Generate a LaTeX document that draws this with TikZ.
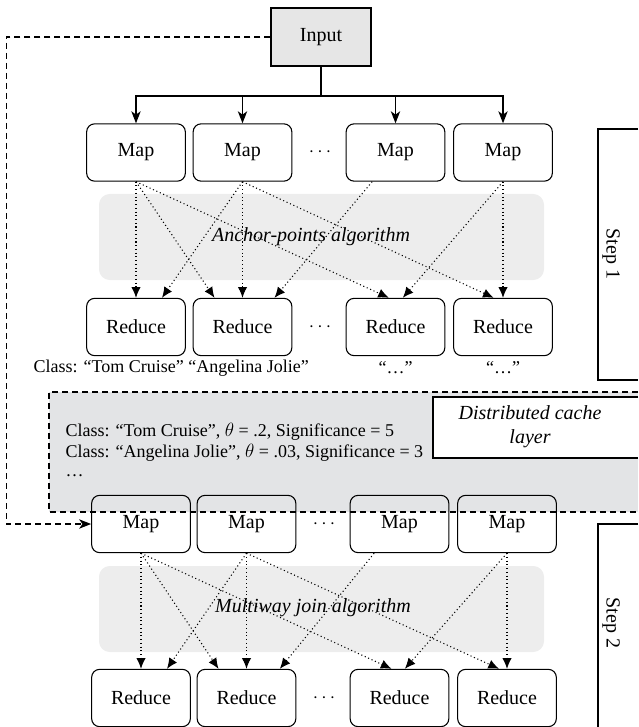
\documentclass[tikz,border=0pt]{standalone}
\usepackage{fontspec}
\setmainfont{Liberation Serif}
\usetikzlibrary{arrows.meta}

\definecolor{bandgray}{RGB}{237,237,237}
\definecolor{cachegray}{RGB}{227,228,230}
\definecolor{inputgray}{RGB}{230,230,230}

\begin{document}
\begin{tikzpicture}[x=0.75pt,y=0.75pt,yscale=-1,xscale=1,
    box/.style={draw, line width=0.8pt, rounded corners=6pt, minimum width=74pt, minimum height=43pt, inner sep=0pt, font=\fontsize{15}{18}\selectfont},
    flow/.style={dotted, line width=0.8pt, -{Latex[length=8pt,width=7pt]}},
    feed/.style={line width=0.9pt, -{Stealth[length=9pt,width=7pt,inset=2.5pt]}},
    lbl/.style={font=\fontsize{15}{18}\selectfont},
    small/.style={font=\fontsize{13.5}{16}\selectfont}]
    %set diagram size 638 x 727, what runs over the bottom edge is cut
    \path[use as bounding box, clip] (0,0) rectangle (638,727);

    %Rounded Rect [band step 1]
    \fill[bandgray, rounded corners=8pt] (99,194) rectangle (544,280);
    %Rounded Rect [band step 2]
    \fill[bandgray, rounded corners=8pt] (99,566) rectangle (544,652);

    %Shape: Rectangle [cache layer], open on the right edge
    \fill[cachegray] (49,392) rectangle (638,512);
    \draw[dashed, dash pattern=on 4.5pt off 3pt, line width=0.8pt] (638,392) -- (49,392) -- (49,512) -- (638,512);
    \fill[white] (433,397) rectangle (638,458);
    \draw[line width=0.8pt] (638,397) -- (433,397) -- (433,458) -- (638,458);

    %Step boxes, open on the right edge
    \draw[line width=0.8pt] (638,129) -- (598,129) -- (598,380) -- (638,380);
    \draw[line width=0.8pt] (638,524) -- (598,524) -- (598,740);

    % Text Node
    \node[draw, line width=0.8pt, fill=inputgray, minimum width=75pt, minimum height=43.5pt, lbl] (in) at (321,37) {Input};

    %Map and Reduce, step 1
    \node[box] (ma1) at (136,152.5) {Map};
    \node[box] (ma2) at (242.5,152.5) {Map};
    \node[lbl] (dma) at (320,152.5) {$\cdots$};
    \node[box] (ma3) at (395.5,152.5) {Map};
    \node[box] (ma4) at (503,152.5) {Map};

    \node[box] (ra1) at (136,327) {Reduce};
    \node[box] (ra2) at (242.5,327) {Reduce};
    \node[lbl] (dra) at (320,327) {$\cdots$};
    \node[box] (ra3) at (395.5,327) {Reduce};
    \node[box] (ra4) at (503,327) {Reduce};

    %Map and Reduce, step 2
    \node[box] (mb1) at (141,524) {Map};
    \node[box] (mb2) at (246.5,524) {Map};
    \node[lbl] (dmb) at (324,524) {$\cdots$};
    \node[box] (mb3) at (399.5,524) {Map};
    \node[box] (mb4) at (507,524) {Map};

    \node[box] (rb1) at (141,698) {Reduce};
    \node[box] (rb2) at (246.5,698) {Reduce};
    \node[lbl] (drb) at (324,698) {$\cdots$};
    \node[box] (rb3) at (399.5,698) {Reduce};
    \node[box] (rb4) at (507,698) {Reduce};

    % Text Node
    \node[lbl, font=\fontsize{15}{18}\selectfont\itshape] (alga) at (311,237) {Anchor-points algorithm};
    \node[lbl, font=\fontsize{15}{18}\selectfont\itshape] (algb) at (313,608) {Multiway join algorithm};
    \node[lbl, font=\fontsize{15}{18}\selectfont\itshape, align=center] (cache) at (530,427) {Distributed cache\\layer};
    \node[lbl, rotate=-90] (st1) at (611,254) {Step 1};
    \node[lbl, rotate=-90] (st2) at (611,623) {Step 2};

    % Text Node
    \node[small, anchor=west] (cls) at (29,368) {Class: “Tom Cruise” “Angelina Jolie”};
    \node[small] (cls3) at (395.5,368) {“…”};
    \node[small] (cls4) at (503,368) {“…”};
    \node[small, anchor=base west] (ct1) at (61,436) {Class: “Tom Cruise”, $\theta$ = .2, Significance = 5};
    \node[small, anchor=base west] (ct2) at (61,457) {Class: “Angelina Jolie”, $\theta$ = .03, Significance = 3};
    \node[small, anchor=base west] (ct3) at (61,476) {…};

    %Input to the maps
    \coordinate (bus) at (321,96);
    \draw[line width=0.9pt] (in.south) -- (bus);
    \draw[feed] (bus) -| (ma1.north);
    \draw[feed] (bus) -| (ma2.north);
    \draw[feed] (bus) -| (ma3.north);
    \draw[feed] (bus) -| (ma4.north);
    \draw[feed, dashed, dash pattern=on 4.5pt off 3pt] (in.west) -- ++(-264,0) |- (mb1.west);

    %Straight Lines, step 1
    \draw[flow] (ma1.south) -- (ra1.north);
    \draw[flow] (ma1.south) -- ([xshift=-21pt]ra2.north);
    \draw[flow] (ma1.south) -- ([xshift=-5pt]ra3.north);
    \draw[flow] (ma2.south) -- ([xshift=19.5pt]ra1.north);
    \draw[flow] (ma2.south) -- (ra2.north);
    \draw[flow] (ma2.south) -- ([xshift=-7pt]ra4.north);
    \draw[flow] ([xshift=-17.5pt]ma3.south) -- ([xshift=24pt]ra2.north);
    \draw[flow] (ma4.south) -- ([xshift=5.5pt]ra3.north);
    \draw[flow] (ma4.south) -- (ra4.north);

    %Straight Lines, step 2
    \draw[flow] (mb1.south) -- (rb1.north);
    \draw[flow] (mb1.south) -- ([xshift=-21pt]rb2.north);
    \draw[flow] (mb1.south) -- ([xshift=-6pt]rb3.north);
    \draw[flow] (mb2.south) -- ([xshift=19.5pt]rb1.north);
    \draw[flow] (mb2.south) -- (rb2.north);
    \draw[flow] (mb2.south) -- ([xshift=-6pt]rb4.north);
    \draw[flow] ([xshift=-19pt]mb3.south) -- ([xshift=25pt]rb2.north);
    \draw[flow] (mb4.south) -- ([xshift=4pt]rb3.north);
    \draw[flow] (mb4.south) -- (rb4.north);
\end{tikzpicture}
\end{document}
